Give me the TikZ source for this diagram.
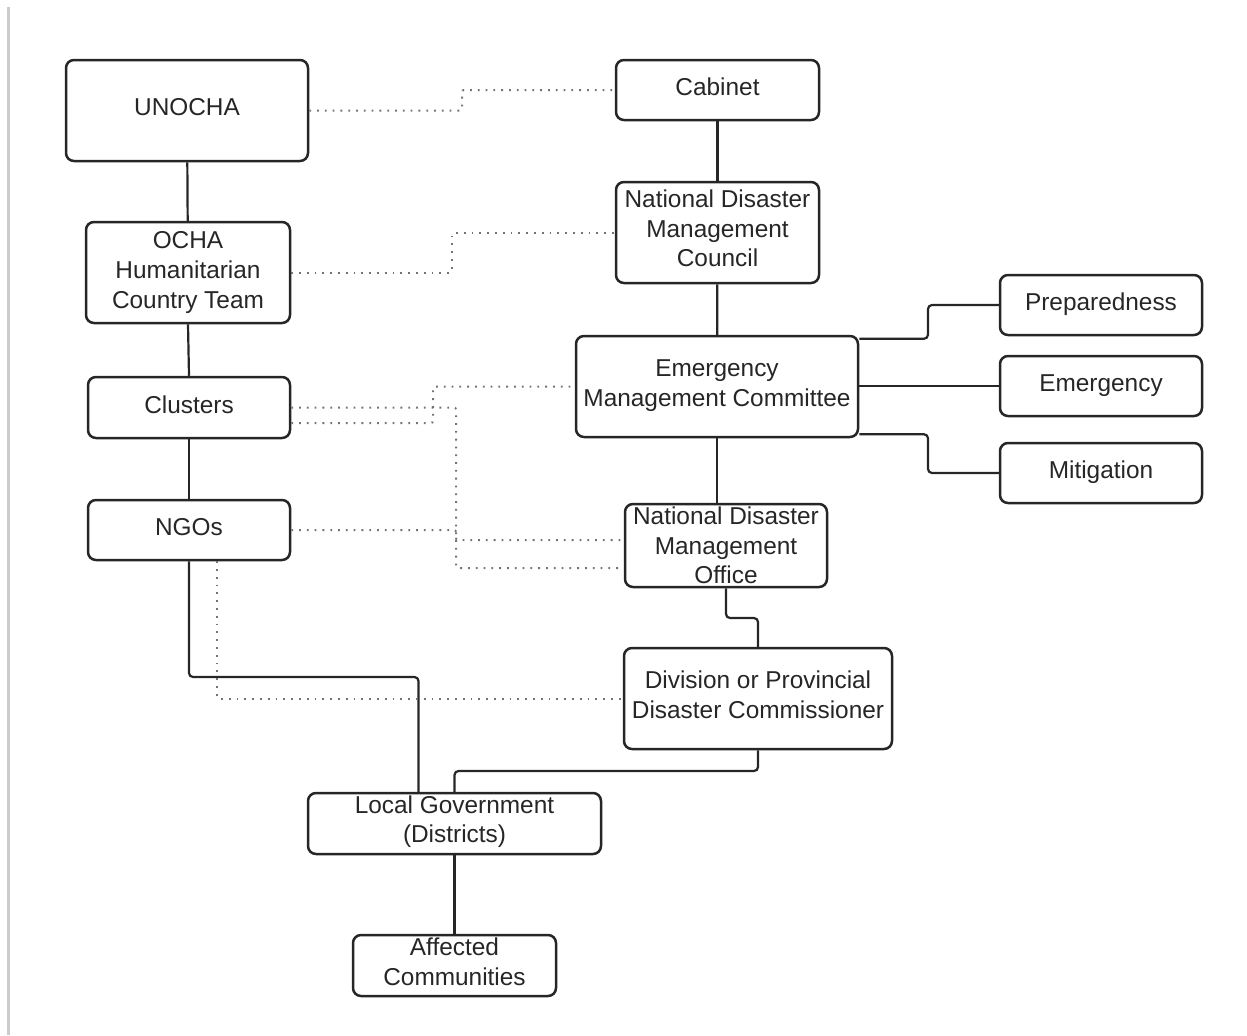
\documentclass[tikz,border=0pt]{standalone}
\usepackage{fontspec}
\setmainfont{Liberation Sans}
\usetikzlibrary{calc}
\begin{document}
\begin{tikzpicture}[x=0.5pt,y=-0.5pt,
  box/.style={draw=black!85, line width=1.25pt, rounded corners=4pt, inner sep=0pt},
  txt/.style={align=center, inner sep=0pt, font=\fontsize{12.2}{14.8}\selectfont, text=black!85},
  link/.style={draw=black!85, line width=1.1pt, rounded corners=2pt},
  dots/.style={draw=black!55, line width=1pt, dash pattern=on 0.9pt off 3pt, rounded corners=1pt}]
\useasboundingbox (0,0) rectangle (1247,1035);
\draw[black!20, line width=1.2pt] (8.5,7) -- (8.5,1035);

\node[box, minimum width=121pt, minimum height=50.5pt,
  label={[txt,yshift=1.5pt]center:{UNOCHA}}] (unocha) at (187,110.5) {};
\node[box, minimum width=101.5pt, minimum height=30pt,
  label={[txt,yshift=1.5pt]center:{Cabinet}}] (cab) at (717.5,90) {};
\node[box, minimum width=101.5pt, minimum height=50.5pt,
  label={[txt,yshift=2pt]center:{National Disaster\\Management\\Council}}] (ndmc) at (717.5,232.5) {};
\node[box, minimum width=102pt, minimum height=50.5pt,
  label={[txt]center:{OCHA\\Humanitarian\\Country Team}}] (ocha) at (188,272.5) {};
\node[box, minimum width=101pt, minimum height=30.5pt,
  label={[txt,yshift=1.5pt]center:{Clusters}}] (clu) at (189,407.5) {};
\node[box, minimum width=141pt, minimum height=50.5pt,
  label={[txt,yshift=0.5pt]center:{Emergency\\Management Committee}}] (emc) at (717,386.5) {};
\node[box, minimum width=101pt, minimum height=30pt,
  label={[txt,yshift=0.5pt]center:{Preparedness}}] (prep) at (1101,305) {};
\node[box, minimum width=101pt, minimum height=30pt,
  label={[txt]center:{Emergency}}] (emer) at (1101,386) {};
\node[box, minimum width=101pt, minimum height=30pt,
  label={[txt,yshift=0.5pt]center:{Mitigation}}] (miti) at (1101,473) {};
\node[box, minimum width=101pt, minimum height=30pt,
  label={[txt,yshift=1.5pt]center:{NGOs}}] (ngo) at (189,530) {};
\node[box, minimum width=101pt, minimum height=41.5pt,
  label={[txt]center:{National Disaster\\Management\\Office}}] (ndmo) at (726,545.5) {};
\node[box, minimum width=134pt, minimum height=50.5pt,
  label={[txt,yshift=2pt]center:{Division or Provincial\\Disaster Commissioner}}] (dpdc) at (758,698.5) {};
\node[box, minimum width=146.5pt, minimum height=30.5pt,
  label={[txt,yshift=1pt]center:{Local Government\\(Districts)}}] (lg) at (454.5,823.5) {};
\node[box, minimum width=101.5pt, minimum height=30.5pt,
  label={[txt,yshift=2pt]center:{Affected\\Communities}}] (aff) at (454.5,965.5) {};

\coordinate (yA) at (0,677);
\coordinate (yB) at (0,618);
\coordinate (yC) at (0,771);

% solid connectors
\draw[link] (unocha) -- (ocha);
\draw[link] (ocha.south) -- (clu.north);
\draw[link] (clu) -- (ngo);
\draw[link] (cab) -- (ndmc);
\draw[link] (ndmc) -- (emc);
\draw[link] (emc.south) -- (emc.south |- ndmo.north);
\draw[link] (ngo.south) -- (ngo.south |- yA) -| ([xshift=-18pt]lg.north);
\draw[link] (ndmo.south) -- (ndmo.south |- yB) -| (dpdc.north);
\draw[link] (dpdc.south) -- (dpdc.south |- yC) -| (lg.north);
\draw[link] (lg) -- (aff);
\draw[link] ([yshift=-2pt]emc.north east) -| (928,320) |- (prep.west);
\draw[link] (emc.east |- emer.west) -- (emer.west);
\draw[link] ([yshift=2pt]emc.south east) -| (928,450) |- (miti.west);

% dotted connectors
\draw[dots] (unocha.east) -| (462,100) |- (cab.west);
\draw[dots] (ocha.east) -| (452,250) |- (ndmc.west);
\draw[dots] ([yshift=-7.75pt]clu.east) -| (433,400) |- (emc.west);
\draw[dots] (clu.east) -| (456,500) |- ([yshift=-11.25pt]ndmo.west);
\draw[dots] (ngo.east) -| (456,535) |- ([yshift=2.75pt]ndmo.west);
\draw[dots] ([xshift=14pt]ngo.south) |- (dpdc.west);
\end{tikzpicture}
\end{document}
